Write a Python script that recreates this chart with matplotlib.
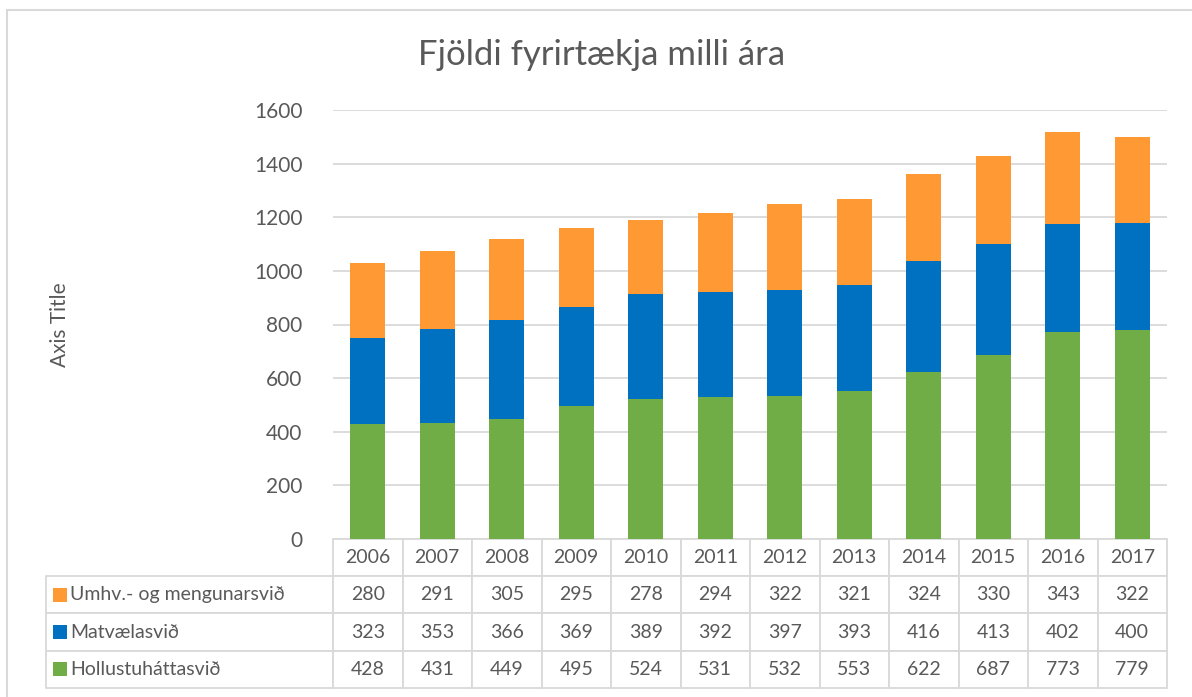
import matplotlib
matplotlib.use('Agg')
import matplotlib.pyplot as plt
from matplotlib.patches import Rectangle

years = ['2006', '2007', '2008', '2009', '2010', '2011', '2012', '2013', '2014', '2015', '2016', '2017']
hollustu = [428, 431, 449, 495, 524, 531, 532, 553, 622, 687, 773, 779]
matvaela = [323, 353, 366, 369, 389, 392, 397, 393, 416, 413, 402, 400]
umhverfis = [280, 291, 305, 295, 278, 294, 322, 321, 324, 330, 343, 322]

series_names = ['Umhv.- og mengunarsvið', 'Matvælasvið', 'Hollustuháttasvið']
series_colors = ['#FF9933', '#0070C0', '#70AD47']

GREY_TEXT = '#595959'
GRID = '#D9D9D9'

plt.rcParams['font.family'] = ['Lato', 'DejaVu Sans']

fig = plt.figure(figsize=(11.92, 6.97), dpi=100)
ax = fig.add_axes([333 / 1192, 1 - 539 / 697, 834 / 1192, 429 / 697])

x = list(range(len(years)))
ax.bar(x, hollustu, width=0.5, color=series_colors[2], zorder=3)
ax.bar(x, matvaela, width=0.5, bottom=hollustu, color=series_colors[1], zorder=3)
bottom3 = [a + b for a, b in zip(hollustu, matvaela)]
ax.bar(x, umhverfis, width=0.5, bottom=bottom3, color=series_colors[0], zorder=3)

ax.set_xlim(-0.5, len(years) - 0.5)
ax.set_ylim(0, 1600)
ax.set_yticks(range(0, 1601, 200))
ax.yaxis.grid(True, color=GRID, linewidth=1.3, zorder=0)
ax.tick_params(axis='y', length=0, pad=22, labelsize=15, labelcolor=GREY_TEXT)
ax.set_xticks([])
for s in ['top', 'right', 'left', 'bottom']:
    ax.spines[s].set_visible(False)

fig.text(60 / 1192, 1 - 325 / 697, 'Axis Title', rotation=90, ha='center', va='center',
         fontsize=15, color=GREY_TEXT)

# data table below the axis: first column holds the series names
cell_text = []
for name, vals in zip(series_names, [umhverfis, matvaela, hollustu]):
    cell_text.append([name] + [str(v) for v in vals])
label_w = 287 / 834
tab = ax.table(cellText=cell_text, colLabels=[''] + years, cellLoc='center',
               colWidths=[label_w] + [1 / 12] * 12,
               bbox=[-label_w, -0.347, 1 + label_w, 0.347])
tab.auto_set_font_size(False)
for (r, c), cell in tab.get_celld().items():
    cell.set_edgecolor(GRID)
    cell.set_linewidth(1.3)
    cell.get_text().set_color(GREY_TEXT)
    cell.get_text().set_fontsize(14)
    if c == 0:
        if r == 0:
            cell.set_visible(False)
        else:
            cell.get_text().set_ha('left')
            cell._loc = 'left'
            cell.PAD = 24 / 287

row_h = 0.347 / 4
for i, col in enumerate(series_colors):
    yc = -row_h * (1.5 + i)
    ax.add_patch(Rectangle((-280 / 834, yc - 7 / 429), 14 / 834, 14 / 429, transform=ax.transAxes,
                           facecolor=col, edgecolor='none', clip_on=False, zorder=5))

fig.text(0.505, 1 - 55 / 697, 'Fjöldi fyrirtækja milli ára', ha='center', va='center',
         fontsize=25, color=GREY_TEXT)

fig.add_artist(Rectangle((7 / 1192, -0.1), 1.2, 1.1 - 10 / 697, transform=fig.transFigure,
                         facecolor='none', edgecolor=GRID, linewidth=1.5))

fig.savefig('out.png', dpi=100)
